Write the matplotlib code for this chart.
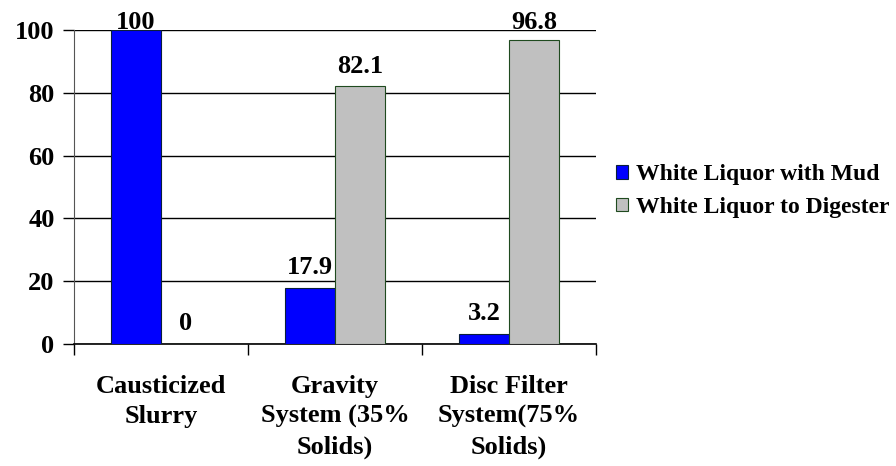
import matplotlib.pyplot as plt
import numpy as np

categories = ["Causticized\nSlurry", "Gravity\nSystem (35%\nSolids)", "Disc Filter\nSystem(75%\nSolids)"]
with_mud = [100, 17.9, 3.2]
to_digester = [0, 82.1, 96.8]
series_names = ["White Liquor with Mud", "White Liquor to Digester"]

plt.rcParams['font.family'] = 'serif'
plt.rcParams['font.serif'] = ['Liberation Serif', 'DejaVu Serif']
plt.rcParams['font.weight'] = 'bold'

fig = plt.figure(figsize=(8.96, 4.66), dpi=100)
ax = fig.add_axes([74 / 896, 122 / 466, 522 / 896, 314 / 466])

x = np.arange(len(categories))
w = 0.287
b1 = ax.bar(x - w / 2, with_mud, w, color="#0000FF", edgecolor="#0a1f3a", linewidth=0.8,
            label=series_names[0], zorder=3)
b2 = ax.bar(x + w / 2, to_digester, w, color="#C0C0C0", edgecolor="#1f4a1f", linewidth=0.8,
            label=series_names[1], zorder=3)

# value labels sit above each bar, kept inside the plot area at the top
for bars, vals in ((b1, with_mud), (b2, to_digester)):
    for rect, v in zip(bars, vals):
        ax.text(rect.get_x() + rect.get_width() / 2, min(v + 4.3, 100.4), f"{v:g}",
                ha="center", va="baseline", fontsize=19, fontweight="bold")

ax.set_xlim(-0.5, 2.5)
ax.set_ylim(0, 100)
ax.set_yticks(range(0, 101, 20))
ax.yaxis.grid(True, color="black", linewidth=1)
ax.set_axisbelow(True)
ax.tick_params(axis="y", length=8, width=1, labelsize=19, pad=6)
ax.set_xticks(x)
ax.set_xticklabels(categories, fontsize=19, linespacing=1.4)
ax.tick_params(axis="x", length=0, pad=22)
ax.set_xticks(np.arange(-0.5, 3, 1), minor=True)
ax.tick_params(axis="x", which="minor", length=8, width=1)
for s in ("top", "right"):
    ax.spines[s].set_visible(False)
ax.spines["left"].set_color("#555555")
ax.spines["bottom"].set_linewidth(1.2)

ax.legend(loc="center left", bbox_to_anchor=(0.998, 0.487), frameon=False, fontsize=17,
          handlelength=0.52, handleheight=0.52, handletextpad=0.3, labelspacing=0.5)

fig.savefig("out.png", dpi=100)
